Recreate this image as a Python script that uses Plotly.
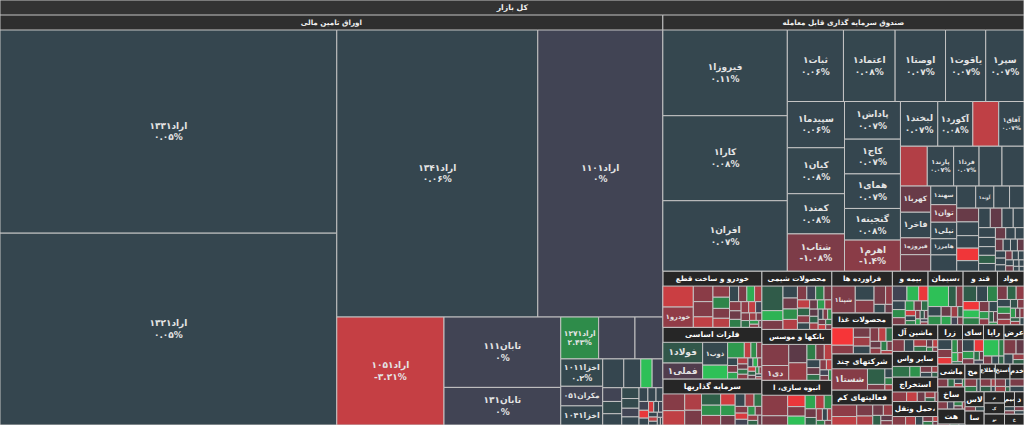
import plotly.graph_objects as go

# ---------------- data ----------------
root_label = "کل بازار"
bond_group = "اوراق تامین مالی"
etf_group = "صندوق سرمایه گذاری قابل معامله"

bond_names = ["اراد۱۳۳۱", "اراد۱۳۲۱", "اراد۱۳۴۱", "اراد۱۱۰۱", "اراد۱۰۵۱", "تابان۱۱۱", "تابان۱۳۱",
              "اراد۱۲۷۱", "", "", "اخزا۱۰۱۱", "مکران۰۵۱", "اخزا۱۰۴۱"]
bond_values = [73300, 69200, 61800, 38450, 12400, 8800, 4700, 1700, 1630, 1250, 1230, 880, 860,
               650, 525, 350, 330, 280, 250, 230, 200, 180, 160, 150, 130, 120, 100, 90, 80, 70,
               60, 55, 50, 45, 40, 35, 30, 25, 20]
bond_changes = [0.05, 0.05, 0.06, 0, -3.21, 0, 0, 2.43, 0, 0, 0.2, 0, 0.05,
                0.05, 0.05, 4.5, 0, 0, 0.5, 0.05, 0.5, 0.5, 0, 0.05, 0.05, 0.05, 0.05, 0, -4.5, 0.05,
                -4.0, 0.05, 0, 0.05, -3.0, 0.05, 0, 0.05, 0.05]

etf_names = ["فیروزا۱", "کارا۱", "افران۱", "ثبات۱", "اعتماد۱", "اوصتا۱", "یاقوت۱", "سپر۱",
             "سپیدما۱", "کیان۱", "کمند۱", "شتاب۱", "پاداش۱", "کاج۱", "همای۱", "گنجینه۱",
             "اهرم۱", "لبخند۱", "آکورد۱", "", "آفاق۱", "", "پارند۱", "فردا۱", "", "",
             "کهربا۱", "فاخر۱", "فیروزه۱", "", "سهند۱", "توان۱", "نیلی۱", "هامرز۱", "آوند۱"]
etf_values = [11700, 11600, 9600, 4400, 4050, 3950, 3150, 3000,
              2900, 2880, 2520, 2330, 2310, 2130, 2120, 1940,
              1900, 1830, 1720, 1270, 1240, 1170, 1150, 1110, 1000, 960,
              870, 850, 560, 545, 530, 500, 470, 460, 440,
              460, 380, 330, 330, 350, 460, 300, 230, 300, 250, 250, 250, 240,
              180, 170, 160, 150, 140, 130, 120, 110, 100, 95, 90, 85, 80, 75, 70, 65,
              60, 55, 50, 45, 40, 35, 30, 25]
etf_changes = [0.11, 0.08, 0.07, 0.06, 0.08, 0.07, 0.07, 0.07,
               0.06, 0.08, 0.08, -1.08, 0.07, 0.07, 0.07, 0.08,
               -1.4, 0.07, 0.08, -3.0, 0.07, -2.6, 0.07, 0.07, 0.05, 0.05,
               -0.7, 0.05, -0.8, -0.8, 0.05, -0.9, 0.05, 0.05, 0.05,
               0.05, 0.05, -0.7, 0.05, 0.05, 0.05, 0.05, 0.05, -4.8, 0.05, 0.05, -0.6, 0.05,
               0.05, 0.05, 0.05, 1.0, 0.05, -0.7, 0.05, 0.05, -0.8, 0.05, 0.05, -0.6, 0.05, 0.05, 0.05, -1.0,
               0.05, 0.05, 0.05, -0.8, 0.05, 0.05, 0.05, 0.05]
# names shown without the percentage line
name_only = {"فاخر۱", "کهربا۱", "سهند۱", "توان۱", "نیلی۱", "هامرز۱", "آوند۱", "فیروزه۱",
             "مکران۰۵۱", "اخزا۱۰۴۱", "خودرو۱", "فولاد۱", "فملی۱", "ذوب۱", "شپنا۱", "دی۱", "شستا۱"}

# industry groups, with their names as displayed (cut) in the map
sector_labels = [
    "خودرو و ساخت قطع", "فلزات اساسی", "سرمایه گذاریها", "محصولات شیمی", "بانکها و موسس",
    "انبوه سازی، ا", "فراورده ها", "محصولات غذا", "شرکتهای چند", "فعالیتهای کم", "بیمه و",
    "سیمان،", "قند و", "مواد", "ماشین آل", "سایر واس", "استخراج", "حمل ونقل،", "زرا", "سای",
    "رایا", "عرض", "ماشی", "ساخ", "هت", "مح", "اطلاع", "استخ", "خدم", "لاس", "سا", "م", "ک",
    "تو", "بیم", "د", "خ"]
sector_values = [
    [900, 870, 430, 420, 290, 260, 260, 230, 210, 200, 180, 170, 160, 150, 140, 130, 120, 110, 100, 90, 80, 70, 60, 50, 40, 30],
    [1200, 920, 830, 500, 380, 150, 130, 120, 110, 100, 95, 90, 80, 75, 70, 65, 60, 55, 50, 45, 40, 35, 30, 25, 20],
    [560, 480, 420, 380, 330, 300, 280, 250, 230, 210, 190, 170, 150, 130, 120, 110, 100, 90, 80, 70, 60],
    [720, 290, 260, 240, 220, 210, 200, 180, 170, 160, 150, 140, 130, 120, 110, 100, 95, 90, 85, 80, 75, 70, 65, 60, 55, 50, 45, 40],
    [830, 580, 490, 465, 200, 190, 170, 150, 130, 110, 95, 80, 70, 60, 50],
    [820, 370, 310, 260, 240, 220, 180, 160, 150, 130, 110, 90, 80, 60, 50],
    [1010, 430, 380, 340, 200, 150, 100],
    [610, 300, 260, 240, 210, 190, 160, 140, 120, 100, 90, 80, 60],
    [1330, 480, 170, 120, 90, 70],
    [520, 380, 320, 260, 200, 170, 140, 110, 90],
    [310, 250, 200, 160, 150, 130, 120, 100, 90, 80, 70, 60, 55, 50, 45, 40, 35, 30],
    [600, 230, 200, 180, 160, 140, 120, 100, 80, 70, 60],
    [300, 240, 220, 200, 180, 160, 140, 120, 100, 80, 70, 60, 30],
    [190, 170, 150, 140, 120, 110, 100, 90, 80, 70, 60, 55, 50, 45, 40],
    [330, 260, 200, 150, 110, 90, 60, 50],
    [460, 280, 170, 130, 90, 70],
    [360, 270, 200, 150, 100, 70],
    [320, 240, 180, 140, 100, 70, 50],
    [230, 190, 150, 120, 110, 90, 70, 40],
    [230, 180, 140, 100, 80, 60, 60],
    [420, 140, 110, 90, 70],
    [290, 190, 150, 100, 80],
    [240, 150, 110, 80, 60],
    [220, 150, 110, 80, 60],
    [200, 150, 100],
    [200, 140, 100],
    [180, 130, 70, 50],
    [170, 120, 80, 50],
    [230, 170],
    [210, 170],
    [160, 120],
    [140, 100],
    [130, 100],
    [130, 100],
    [130, 100],
    [120, 100],
    [120, 100],
]
sector_changes = [
    [-3.4, -1.6, -1.4, -1.2, -3.0, -1.5, 2.2, -1.1, -2.8, 0.1, -1.0, 3.8, -2.5, -1.3, -0.8, 2.0, -1.6, -3.2, 0, -1.2, 1.5, -2.0, -0.9, 3.0, -1.4, -0.7],
    [0.8, -0.2, 0.2, 4.5, 3.0, -3.0, 2.5, -1.2, 0.1, -1.0, 3.5, -2.6, -0.8, 1.8, -1.5, 0, 4.0, -1.1, -3.5, 1.0, -0.6, 2.2, -1.3, 0.1, -2.0],
    [-1.3, -3.0, -2.5, -1.0, 1.0, 2.5, -1.5, -3.6, 3.0, -0.8, 0.1, -2.2, 1.6, -1.2, -4.0, 0, 2.8, -0.9, -1.8, 1.2, -0.6],
    [0.9, 4.0, -1.0, 0.1, -0.8, 2.5, -2.6, -1.2, 0, 2.0, -0.9, -3.0, 1.2, -1.5, 0.2, -0.7, 3.2, -1.8, -0.5, 1.0, -2.2, 0.1, -1.1, 2.6, -0.8, -3.5, 1.5, -1.0],
    [-1.2, -1.4, -0.5, -1.8, 2.0, -1.0, -2.8, 0.1, -0.7, 1.5, -1.3, -3.0, 0, -0.9, 2.5],
    [-1.4, -1.0, -4.6, -1.1, 4.5, 3.5, -2.7, 2.5, -0.8, 1.0, -1.6, 0.1, -2.2, 2.0, -0.9],
    [-1.1, 0.1, -1.3, -0.9, -1.5, 0.2, -0.7],
    [-5.0, -1.4, -0.9, -2.0, 0.1, -1.2, -3.0, 1.5, -0.7, -1.6, 2.0, -1.0, -2.5],
    [-1.3, 1.0, -1.0, 0.2, 2.0, -2.0],
    [-1.5, -3.0, -1.0, -2.5, -0.8, -1.8, 1.0, -0.5, -1.2],
    [0, 4.2, -4.6, 0.1, 2.5, -1.0, 3.0, -0.8, 1.5, -3.5, 0.1, 2.0, -1.2, 0.8, -0.6, 3.5, 0, -1.5],
    [4.5, 1.0, -1.3, 0.1, 2.5, -0.7, 3.5, -2.0, 1.2, 0, -1.0],
    [0.9, 0.1, 2.2, -4.8, 4.5, 2.0, -1.0, 0.2, 3.0, -1.5, 1.0, -0.6, 2.5],
    [-1.0, 1.2, -1.6, 0.1, 2.8, -0.8, -2.2, 0.7, -1.2, 3.0, -0.5, -1.4, 1.0, -2.0, 0.2],
    [-1.2, 0.1, -2.3, 1.5, -0.6, -3.0, 2.0, -1.0],
    [1.6, 2.7, -1.0, 0.1, -2.0, 1.0],
    [-1.5, -3.2, -0.8, -2.0, 1.0, -1.0],
    [-1.3, -2.4, 0.1, -1.0, 1.8, -3.0, -0.7],
    [0.1, -1.2, -4.5, 2.5, -0.8, 3.8, -2.0, 1.0],
    [0.1, -4.6, 3.0, -1.0, 1.5, -0.7, 0],
    [4.5, 2.0, -1.0, 0.1, 1.2],
    [-1.1, -0.6, 0.1, -1.8, 1.0],
    [-1.1, 1.5, 0.1, -2.5, 2.0],
    [-1.2, 0, 2.0, -0.6, -1.5],
    [-1.0, 1.2, 0.1],
    [-1.3, 1.8, 0.1],
    [-1.2, 1.0, -2.2, 0.1],
    [-1.2, -2.0, 0.1, 1.3],
    [-1.0, 0.1],
    [-1.2, 0.5],
    [-0.8, 0.1],
    [-1.0, 0.1],
    [0.1, -1.2],
    [-0.7, 0.1],
    [0.1, -1.0],
    [-1.0, 0.1],
    [0.1, -0.8],
]
# (sector index, leaf index, symbol)
sector_named = [(0, 1, "خودرو۱"), (1, 0, "فولاد۱"), (1, 1, "فملی۱"), (1, 2, "ذوب۱"),
                (4, 1, "دی۱"), (6, 0, "شپنا۱"), (8, 0, "شستا۱")]

# ---------------- styling helpers ----------------
NEG_STOPS = [(-5.0, (246, 53, 56)), (-3.0, (191, 64, 69)), (-1.4, (138, 60, 71)),
             (-1.0, (122, 60, 72)), (-0.5, (92, 58, 72)), (-0.01, (72, 62, 80))]
POS_STOPS = [(0.01, (53, 70, 79)), (0.5, (52, 74, 77)), (1.0, (47, 95, 72)),
             (2.4, (46, 139, 74)), (5.0, (46, 204, 90))]


def change_color(c):
    if c == 0:
        return "#414454"
    stops = NEG_STOPS if c < 0 else POS_STOPS
    if c <= stops[0][0]:
        r = stops[0][1]
    elif c >= stops[-1][0]:
        r = stops[-1][1]
    else:
        for (a, ca), (b, cb) in zip(stops, stops[1:]):
            if a <= c <= b:
                t = (c - a) / (b - a)
                r = tuple(round(ca[i] + (cb[i] - ca[i]) * t) for i in range(3))
                break
    return "rgb(%d,%d,%d)" % r


FA = str.maketrans("0123456789", "۰۱۲۳۴۵۶۷۸۹")


def fa_pct(c):
    return (f"{c:g}").translate(FA) + "%"


ids, labels, parents, values, colors, texts, fsizes, fcolors = [], [], [], [], [], [], [], []


def add(i, lab, par, val, col, txt, fs, fc):
    ids.append(i); labels.append(lab); parents.append(par); values.append(val)
    colors.append(col); texts.append(txt); fsizes.append(fs); fcolors.append(fc)


add("root", root_label, "", 0, "#333333", root_label, 12, "#f0f0f0")
add("bonds", bond_group, "root", 0, "#2e2e2e", bond_group, 12, "#f0f0f0")
add("etf", etf_group, "root", 0, "#2e2e2e", etf_group, 12, "#f0f0f0")


def leaf_text(name, c):
    if not name:
        return ""
    if name in name_only:
        return name
    return name + "<br>" + fa_pct(c)


for k, (v, c) in enumerate(zip(bond_values, bond_changes)):
    nm = bond_names[k] if k < len(bond_names) else ""
    add("bonds/%d" % k, nm, "bonds", v, change_color(c), leaf_text(nm, c), 9, "#e4e4e4")

for k, (v, c) in enumerate(zip(etf_values, etf_changes)):
    nm = etf_names[k] if k < len(etf_names) else ""
    add("etf/%d" % k, nm, "etf", v, change_color(c), leaf_text(nm, c), 9, "#e4e4e4")

named_lookup = {(s, l): n for s, l, n in sector_named}
for s, lab in enumerate(sector_labels):
    sid = "s%d" % s
    add(sid, lab, "root", 0, "#262626", lab, 12, "#ffffff")
    for k, (v, c) in enumerate(zip(sector_values[s], sector_changes[s])):
        nm = named_lookup.get((s, k), "")
        add("%s/%d" % (sid, k), nm, sid, v, change_color(c), leaf_text(nm, c), 9, "#e4e4e4")

fig = go.Figure(go.Treemap(
    ids=ids, labels=labels, parents=parents, values=values,
    branchvalues="remainder", sort=True,
    text=texts, texttemplate="%{text}", textposition="middle center",
    textfont=dict(family="DejaVu Sans", size=fsizes, color=fcolors, weight="bold"),
    marker=dict(colors=colors, line=dict(color="#c4c4c4", width=1),
                pad=dict(t=15, l=0, r=0, b=0)),
    tiling=dict(packing="squarify", squarifyratio=1.618034, pad=0),
    pathbar=dict(visible=False),
    hoverinfo="none",
))
fig.update_layout(width=1024, height=425, margin=dict(l=0, r=0, t=0, b=0),
                  paper_bgcolor="#c4c4c4", hovermode=False)
fig.write_html("out.html", config={"displayModeBar": False},
               post_script="document.body.style.margin='0';document.body.style.overflow='hidden';")
